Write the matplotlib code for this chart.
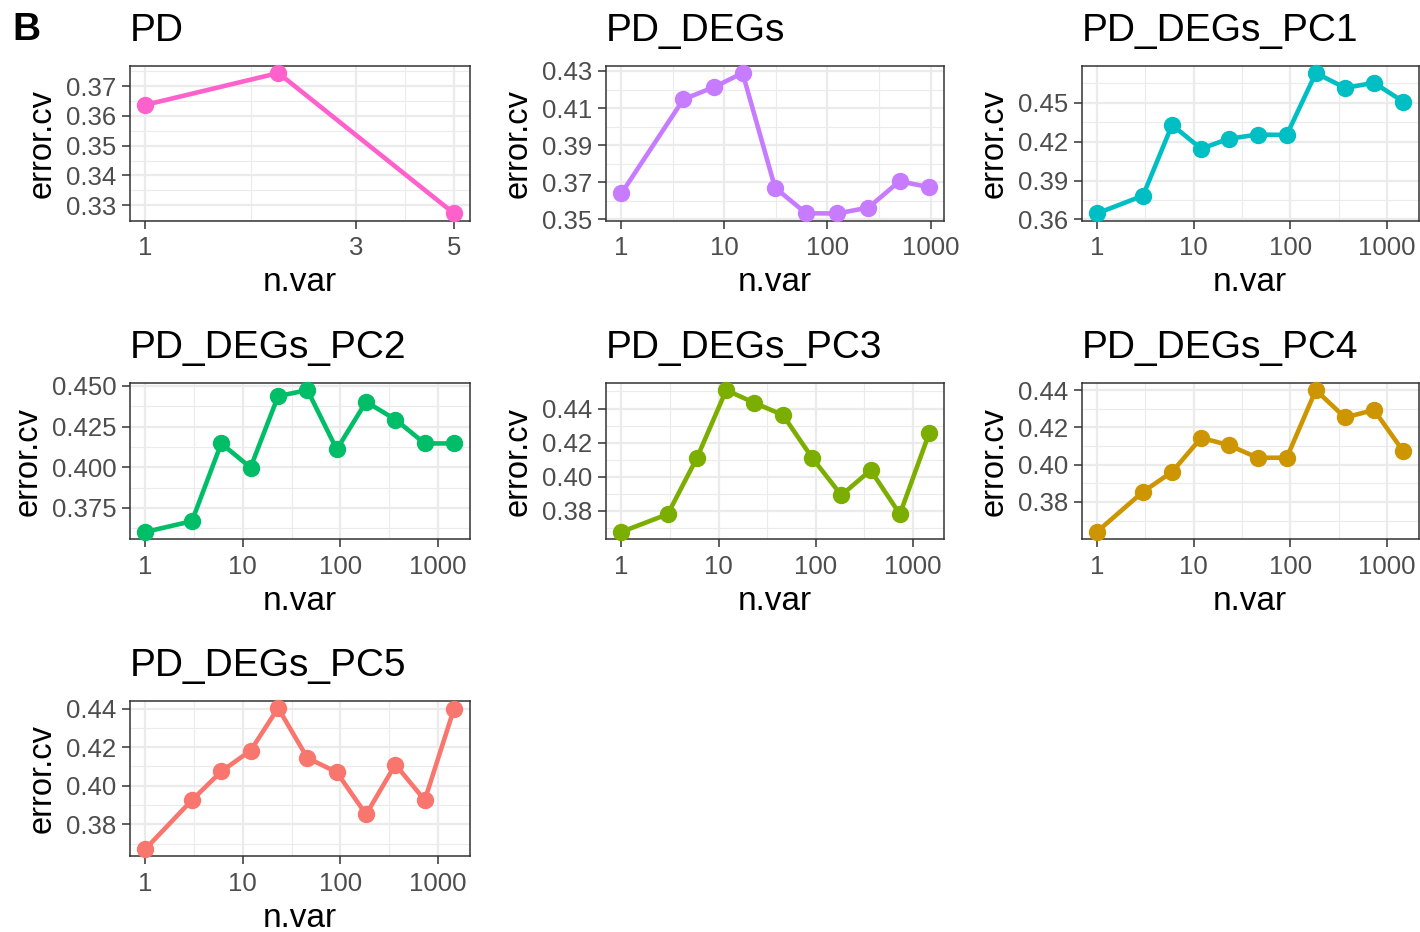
import numpy as np
import matplotlib
matplotlib.use("Agg")
import matplotlib.pyplot as plt
from matplotlib.ticker import FixedLocator, FormatStrFormatter, NullFormatter

plt.rcParams['font.family'] = ['Liberation Sans', 'DejaVu Sans']

# --- DATA ---
panel_names = ["PD", "PD_DEGs", "PD_DEGs_PC1", "PD_DEGs_PC2",
               "PD_DEGs_PC3", "PD_DEGs_PC4", "PD_DEGs_PC5"]
panel_colors = ["#FF61CC", "#C77CFF", "#00BFC4", "#00BE67",
                "#7CAE00", "#CD9600", "#F8766D"]

nvar_pd = [1, 2, 5]
nvar_degs = [1, 4, 8, 15, 31, 62, 125, 250, 500, 969]
nvar_pc = [1, 3, 6, 12, 23, 46, 92, 184, 368, 736, 1472]

err_pd = [0.3637, 0.3744, 0.3272]
err_degs = [0.3639, 0.4147, 0.4214, 0.4289, 0.3670, 0.3532, 0.3531, 0.3563, 0.3705, 0.3673]
err_pc1 = [0.3646, 0.3783, 0.4328, 0.4145, 0.4221, 0.4254, 0.4251, 0.4728, 0.4614, 0.4652, 0.4508]
err_pc2 = [0.3602, 0.3668, 0.4146, 0.3998, 0.4437, 0.4474, 0.4109, 0.4402, 0.4293, 0.4146, 0.4146]
err_pc3 = [0.3677, 0.3781, 0.4111, 0.4508, 0.4435, 0.4362, 0.4111, 0.3892, 0.4039, 0.3781, 0.4254]
err_pc4 = [0.3639, 0.3854, 0.3961, 0.4144, 0.4105, 0.4037, 0.4037, 0.4400, 0.4253, 0.4293, 0.4072]
err_pc5 = [0.3672, 0.3925, 0.4074, 0.4182, 0.4403, 0.4144, 0.4070, 0.3851, 0.4110, 0.3925, 0.4400]

xbreaks_pd = [1, 3, 5]
xbreaks_log = [1, 10, 100, 1000]
ybreaks = [
    [0.33, 0.34, 0.35, 0.36, 0.37],
    [0.35, 0.37, 0.39, 0.41, 0.43],
    [0.36, 0.39, 0.42, 0.45],
    [0.375, 0.400, 0.425, 0.450],
    [0.38, 0.40, 0.42, 0.44],
    [0.36, 0.38, 0.40, 0.42, 0.44],
    [0.38, 0.40, 0.42, 0.44],
]
yfmt = ["%.2f", "%.2f", "%.2f", "%.3f", "%.2f", "%.2f", "%.2f"]

panel_x = [nvar_pd, nvar_degs, nvar_pc, nvar_pc, nvar_pc, nvar_pc, nvar_pc]
panel_y = [err_pd, err_degs, err_pc1, err_pc2, err_pc3, err_pc4, err_pc5]
panel_xbreaks = [xbreaks_pd] + [xbreaks_log] * 6

# --- LAYOUT (pixels) ---
W, H = 1420, 932
col_lr = [(130, 469.5), (606, 944.5), (1081.5, 1418.5)]
row_tb = [(66, 220.5), (383, 539), (701, 856)]

fig = plt.figure(figsize=(W / 100, H / 100), dpi=100)
fig.text(12 / W, 1 - 40 / H, "B", fontsize=28, fontweight="bold", ha="left", va="baseline")

grid_col = "#EBEBEB"
frame_col = "#333333"


def midpoints(vals, log=False):
    out = []
    for a, b in zip(vals[:-1], vals[1:]):
        out.append(np.sqrt(a * b) if log else (a + b) / 2)
    step = vals[1] - vals[0]
    if not log:
        out = [vals[0] - step / 2] + out + [vals[-1] + step / 2]
    return out


for i, name in enumerate(panel_names):
    r, c = divmod(i, 3)
    l, rt = col_lr[c]
    t, b = row_tb[r]
    ax = fig.add_axes([l / W, 1 - b / H, (rt - l) / W, (b - t) / H])
    x = np.array(panel_x[i], dtype=float)
    y = np.array(panel_y[i])

    ax.set_xscale("log")
    lx = np.log10(x)
    ex = (lx.max() - lx.min()) * 0.05
    ax.set_xlim(10 ** (lx.min() - ex), 10 ** (lx.max() + ex))
    ey = (y.max() - y.min()) * 0.05
    ax.set_ylim(y.min() - ey, y.max() + ey)

    brk = panel_xbreaks[i]
    ax.xaxis.set_major_locator(FixedLocator(brk))
    ax.xaxis.set_major_formatter(FormatStrFormatter("%d"))
    ax.xaxis.set_minor_locator(FixedLocator(midpoints(brk, log=True)))
    ax.xaxis.set_minor_formatter(NullFormatter())
    ax.yaxis.set_major_locator(FixedLocator(ybreaks[i]))
    ax.yaxis.set_minor_locator(FixedLocator(midpoints(ybreaks[i])))
    ax.yaxis.set_major_formatter(FormatStrFormatter(yfmt[i]))
    ax.yaxis.set_minor_formatter(NullFormatter())

    ax.grid(which="major", color=grid_col, lw=1.6, zorder=0)
    ax.grid(which="minor", color=grid_col, lw=0.8, zorder=0)
    ax.set_axisbelow(True)

    ax.plot(x, y, color=panel_colors[i], lw=3.3, marker="o", ms=11.5,
            solid_capstyle="butt", zorder=3, clip_on=False)

    for sp in ax.spines.values():
        sp.set_color(frame_col)
        sp.set_linewidth(1.1)
    ax.tick_params(which="major", length=5.8, width=1.1, color=frame_col,
                   labelsize=18.5, labelcolor="#4D4D4D", pad=4)
    ax.tick_params(axis="x", which="major", pad=5.5)
    ax.tick_params(which="minor", length=0)

    ax.set_xlabel("n.var", fontsize=24, labelpad=5)
    ax.set_ylabel("error.cv", fontsize=23.5, labelpad=6)
    ax.set_title(name, loc="left", fontsize=28, pad=18)

fig.savefig("out.png", dpi=100, facecolor="white")
